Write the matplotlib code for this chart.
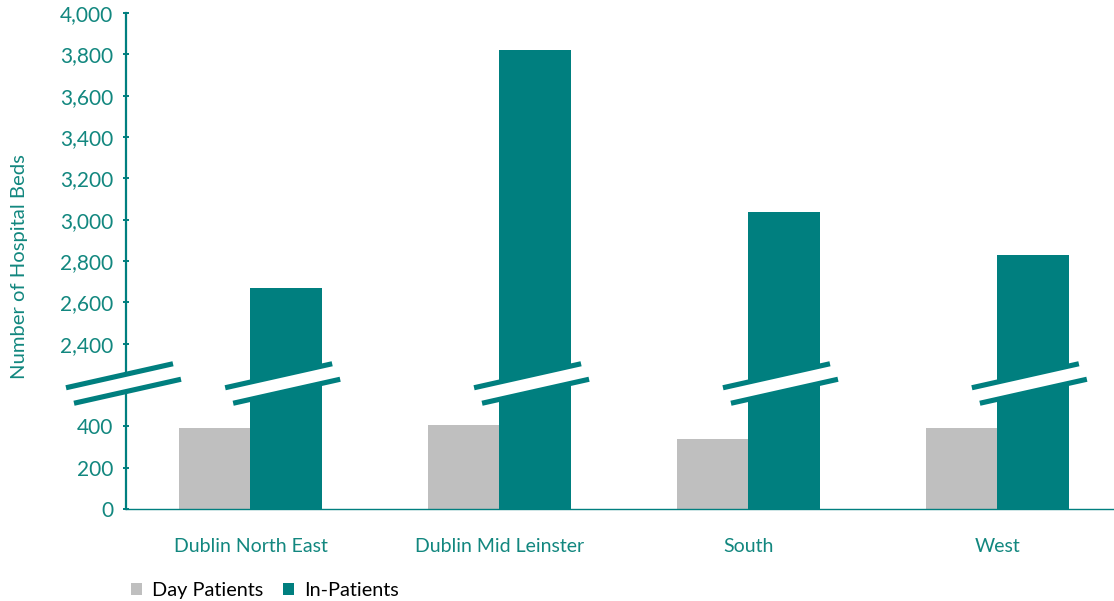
import numpy as np
import matplotlib
matplotlib.use("Agg")
import matplotlib.pyplot as plt
from matplotlib.patches import Polygon
from matplotlib.lines import Line2D
from matplotlib.ticker import FixedLocator, FuncFormatter

# Hospital beds by region
regions = ["Dublin North East", "Dublin Mid Leinster", "South", "West"]
day_patients = [392, 406, 337, 390]
in_patients = [2667, 3820, 3038, 2831]
series_names = ["Day Patients", "In-Patients"]
y_ticks = [0, 200, 400, 2400, 2600, 2800, 3000, 3200, 3400, 3600, 3800, 4000]

# Broken axis: values between LOW_TOP and HIGH_BOTTOM are collapsed
LOW_TOP, HIGH_BOTTOM = 600, 2200
GAP = HIGH_BOTTOM - LOW_TOP

TEAL = "#007F7F"
GREY = "#BFBFBF"
TEXT_TEAL = "#12877F"

plt.rcParams["font.family"] = ["Lato", "DejaVu Sans"]


def forward(v):
    v = np.asarray(v, dtype=float)
    return np.where(v <= LOW_TOP, v, np.where(v < HIGH_BOTTOM, LOW_TOP, v - GAP))


def inverse(u):
    u = np.asarray(u, dtype=float)
    return np.where(u <= LOW_TOP, u, u + GAP)


fig = plt.figure(figsize=(11.14, 6.01), dpi=100)
ax = fig.add_axes([126 / 1114, 92 / 601, 995.6 / 1114, 496 / 601])
ax.set_yscale("function", functions=(forward, inverse))

x = np.arange(len(regions))
w = 0.287
ax.bar(x - w / 2, day_patients, width=w, color=GREY, label=series_names[0], zorder=2)
ax.bar(x + w / 2, in_patients, width=w, color=TEAL, label=series_names[1], zorder=2)

ax.set_xlim(-0.5, len(regions) - 0.5)
ax.set_ylim(0, 4000)
ax.yaxis.set_major_locator(FixedLocator(y_ticks))
ax.yaxis.set_minor_locator(FixedLocator([]))
ax.yaxis.set_major_formatter(FuncFormatter(lambda v, p: f"{int(round(v)):,}"))

ax.set_xticks(x)
ax.set_xticklabels(regions)

for s in ["top", "right"]:
    ax.spines[s].set_visible(False)
ax.spines["left"].set_color(TEAL)
ax.spines["left"].set_linewidth(1.6)
ax.spines["bottom"].set_color(TEAL)
ax.spines["bottom"].set_linewidth(1.0)

ax.tick_params(axis="y", direction="inout", length=4.5, width=1.4, color=TEAL,
               labelcolor=TEXT_TEAL, labelsize=15, pad=7)
ax.tick_params(axis="x", length=0, labelcolor=TEXT_TEAL, labelsize=14, pad=21)

fig.text(19.5 / 1114, 1 - 267 / 601, "Number of Hospital Beds", rotation=90,
         ha="center", va="center", color=TEXT_TEAL, fontsize=14.6)


# Axis-break markers: white band bordered by two slanted teal strokes
def draw_break(xc_px, yc_px):
    hx, hy = 53.5, 12.0
    ox, oy = 4.0, 7.75
    l1 = [(xc_px - ox - hx, yc_px + oy - hy), (xc_px - ox + hx, yc_px + oy + hy)]
    l2 = [(xc_px + ox - hx, yc_px - oy - hy), (xc_px + ox + hx, yc_px - oy + hy)]
    band = Polygon([l1[0], l1[1], l2[1], l2[0]], closed=True, facecolor="white",
                   edgecolor="none", transform=None, zorder=5, clip_on=False)
    fig.add_artist(band)
    for seg in (l1, l2):
        xs, ys = zip(*seg)
        fig.add_artist(Line2D(xs, ys, color=TEAL, linewidth=3.7, solid_capstyle="butt",
                              transform=None, zorder=6))


fig.canvas.draw()
y_break = ax.transData.transform((0, LOW_TOP))[1]
x_axis_px = ax.transAxes.transform((0, 0))[0]
draw_break(x_axis_px - 2.5, y_break + 1.5)
for xi, val in zip(x, in_patients):
    if val > HIGH_BOTTOM:
        xc = ax.transData.transform((xi + w / 2, 0))[0]
        draw_break(xc - 3.5, y_break + 1.5)

handles, labels = ax.get_legend_handles_labels()
fig.legend(handles, labels, loc="center left", bbox_to_anchor=(131 / 1114, 10.5 / 601),
           ncol=2, frameon=False, fontsize=14.3, handlelength=0.55, handleheight=0.55,
           handletextpad=0.5, columnspacing=1.0, borderpad=0, borderaxespad=0,
           labelcolor="black")

fig.savefig("out.png", dpi=100)
